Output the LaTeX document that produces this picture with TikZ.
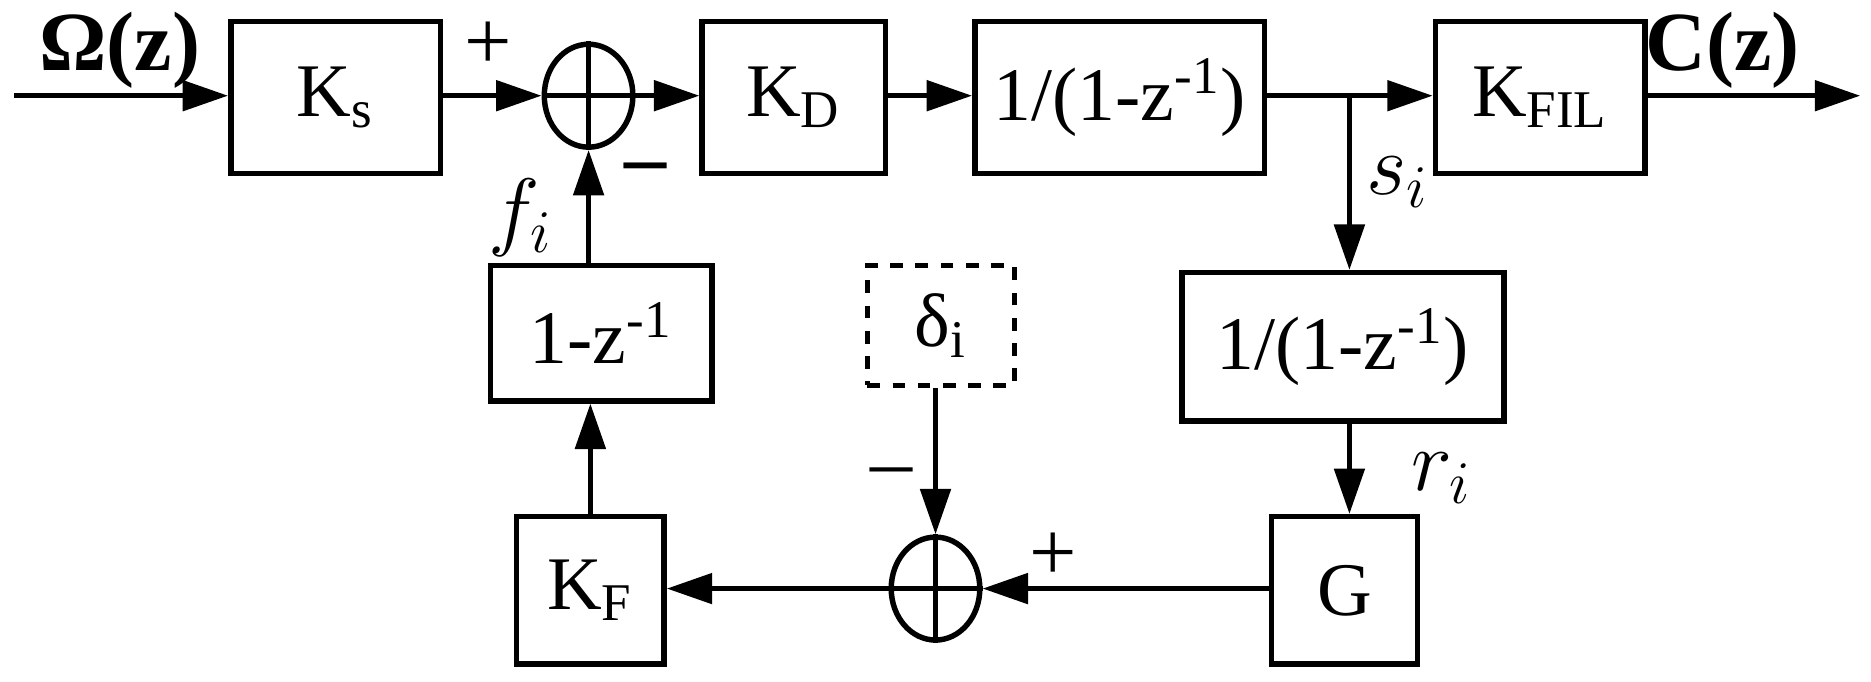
\documentclass[tikz,border=0pt]{standalone}
\usepackage{fontspec}
\setmainfont{Liberation Serif}
\usetikzlibrary{arrows.meta,shapes.geometric}
\begin{document}
\begin{tikzpicture}[x=0.01cm,y=-0.01cm,
  every node/.style={font=\fontsize{18}{21}\selectfont},
  blk/.style={draw,line width=1.3pt,inner sep=0pt},
  sum/.style={draw,line width=1.3pt,ellipse,minimum width=0.74cm,minimum height=0.86cm,inner sep=0pt},
  ar/.style={line width=1.3pt,-{Triangle[length=0.38cm,width=0.25cm]}},
  ln/.style={line width=1.3pt},
  lab/.style={font=\fontsize{20}{24}\selectfont}]
\useasboundingbox (0,0) rectangle (1564,570);
\node[blk,minimum width=1.75cm,minimum height=1.27cm] (ks) at (280.5,81.5) {K\textsubscript{s}};
\node[sum] (s1) at (492,80) {};
\draw[ln] (s1.north)--(s1.south) (s1.west)--(s1.east);
\node[blk,minimum width=1.53cm,minimum height=1.27cm] (kd) at (663.5,81.5) {K\textsubscript{D}};
\node[blk,minimum width=2.42cm,minimum height=1.27cm] (i1) at (936,81.5) {1/(1-z\textsuperscript{-1})};
\node[blk,minimum width=1.75cm,minimum height=1.27cm] (kf) at (1287.5,81.5) {K\textsubscript{FIL}};
\node[blk,minimum width=2.69cm,minimum height=1.24cm] (i2) at (1122.5,290) {1/(1-z\textsuperscript{-1})};
\node[blk,minimum width=1.22cm,minimum height=1.23cm] (g) at (1124,493.5) {G};
\node[sum] (s2) at (782,492) {};
\draw[ln] (s2.north)--(s2.south) (s2.west)--(s2.east);
\node[blk,minimum width=1.23cm,minimum height=1.23cm] (kF) at (493.5,493.5) {K\textsubscript{F}};
\node[blk,minimum width=1.85cm,minimum height=1.13cm] (d1) at (502.5,278.5) {1-z\textsuperscript{-1}};
\node[blk,dashed,minimum width=1.23cm,minimum height=1.0cm] (del) at (786.5,272) {δ\textsubscript{i}};
\coordinate (in) at (12,80);
\coordinate (out) at (1555,80);
\coordinate (br) at (1128,80);
\draw[ar] (in)--(ks.west|-in);
\draw[ar] (ks.east|-s1)--(s1.west);
\draw[ar] (s1.east)--(kd.west|-s1);
\draw[ar] (kd.east|-s1)--(i1.west|-s1);
\draw[ar] (i1.east|-s1)--(kf.west|-s1);
\draw[ar] (kf.east|-s1)--(out);
\draw[ar] (br)--(br|-i2.north);
\draw[ar] (i2.south-|br)--(br|-g.north);
\draw[ar] (g.west|-s2)--(s2.east);
\draw[ar] (s2.west)--(kF.east|-s2);
\draw[ar] (kF.north)--(kF.north|-d1.south);
\draw[ar] (d1.north-|s1)--(s1.south);
\draw[ar] (del.south-|s2)--(s2.north);
\node[lab,font=\bfseries\fontsize{20}{24}\selectfont] (om) at (100,42) {Ω(z)};
\node[lab,font=\bfseries\fontsize{20}{24}\selectfont] (cz) at (1440,42) {C(z)};
\node[lab] (p1) at (408,38) {+};
\node[lab] (m1) at (540,146) {\textbf{–}};
\node[lab] (fi) at (435,182) {\fontsize{22}{24}\selectfont$f_i$};
\node[lab] (si) at (1168,152) {\fontsize{22}{24}\selectfont$s_i$};
\node[lab] (ri) at (1205,400) {\fontsize{22}{24}\selectfont$r_i$};
\node[lab] (p2) at (880,465) {+};
\node[lab] (m2) at (745,400) {–};
\end{tikzpicture}
\end{document}
